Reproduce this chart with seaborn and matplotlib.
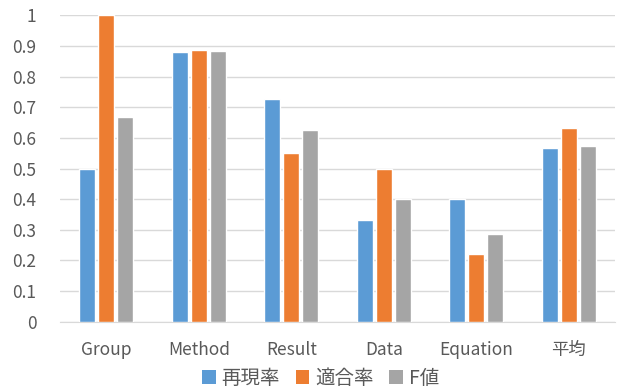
import matplotlib
matplotlib.use("Agg")
import matplotlib.pyplot as plt
import seaborn as sns
import pandas as pd
from matplotlib.patches import Patch

categories = ["Group", "Method", "Result", "Data", "Equation", "平均"]
recall = [0.5, 0.881, 0.727, 0.333, 0.4, 0.568]
precision = [1.0, 0.886, 0.55, 0.5, 0.222, 0.632]
f_value = [0.667, 0.883, 0.627, 0.4, 0.285, 0.572]
series_names = ["再現率", "適合率", "F値"]
colors = ["#5B9BD5", "#ED7D31", "#A5A5A5"]

rows = []
for name, vals in zip(series_names, [recall, precision, f_value]):
    for c, v in zip(categories, vals):
        rows.append({"category": c, "series": name, "value": v})
df = pd.DataFrame(rows)

sns.set_style("white")
plt.rcParams["font.family"] = ["Noto Sans CJK JP", "DejaVu Sans"]

fig = plt.figure(figsize=(6.19, 3.92), dpi=100)
ax = fig.add_axes([60 / 619, 1 - 321.7 / 392, 555 / 619, 306.4 / 392])

sns.barplot(data=df, x="category", y="value", hue="series",
            hue_order=series_names, order=categories,
            palette=colors, width=0.62, gap=0.15, saturation=1,
            ax=ax, legend=False, zorder=3)

ax.set_ylim(0, 1)
ax.set_xlim(-0.5, len(categories) - 0.5)
ax.set_yticks([i / 10 for i in range(11)])
ax.set_yticklabels(["0"] + [f"0.{i}" for i in range(1, 10)] + ["1"])
ax.yaxis.grid(True, color="#D9D9D9", linewidth=1, zorder=0)
ax.set_axisbelow(True)
for s in ["left", "right", "top"]:
    ax.spines[s].set_visible(False)
ax.spines["bottom"].set_color("#D9D9D9")
ax.tick_params(axis="both", length=0, labelsize=12.5, labelcolor="#595959")
ax.tick_params(axis="x", pad=14)
ax.tick_params(axis="y", pad=17)
ax.set_xlabel("")
ax.set_ylabel("")

handles = [Patch(facecolor=c, edgecolor="none") for c in colors]
fig.legend(handles, series_names, loc="center", bbox_to_anchor=(0.518, 1 - 378 / 392),
           ncol=3, frameon=False, fontsize=14, handlelength=0.7, handleheight=0.7,
           handletextpad=0.3, columnspacing=0.8, labelcolor="#595959")

fig.savefig("out.png", dpi=100)
